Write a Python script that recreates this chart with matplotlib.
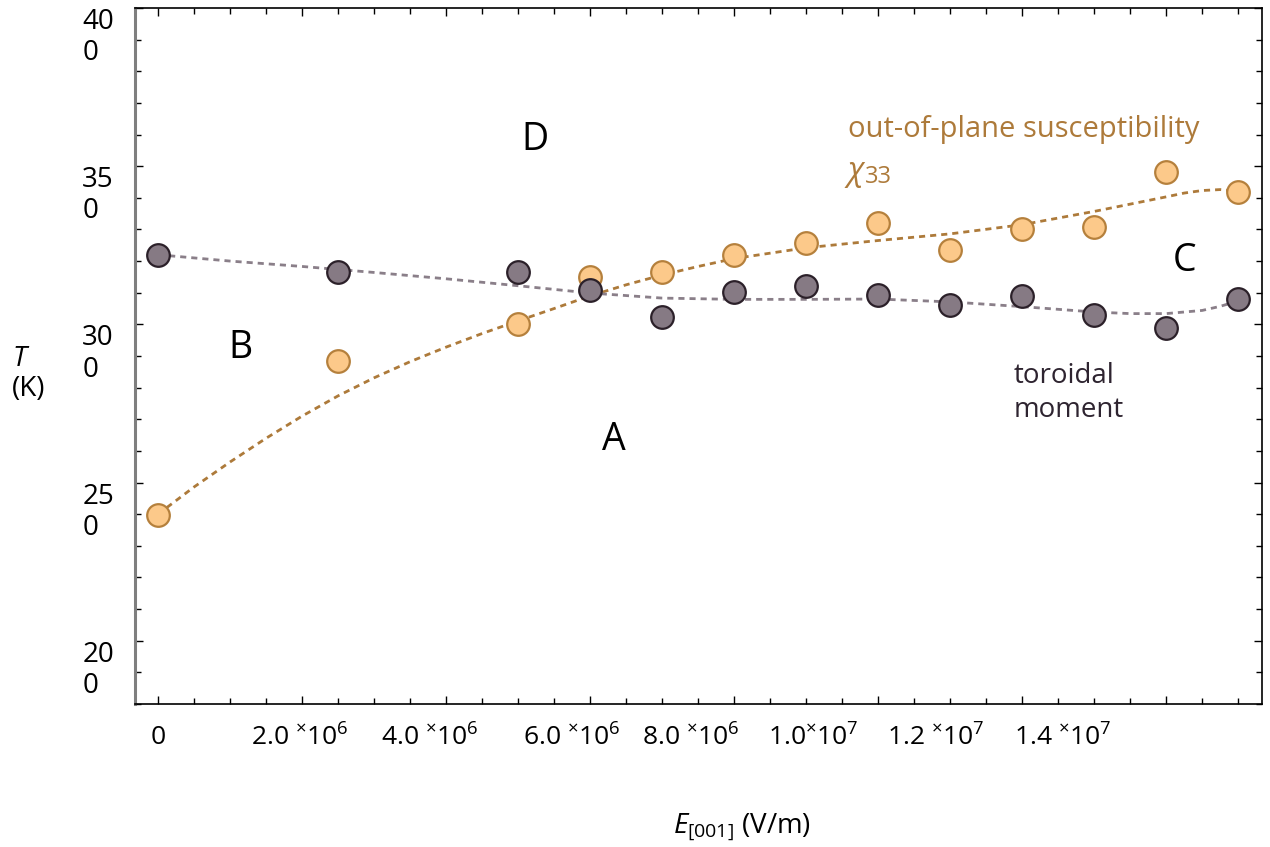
import numpy as np
import matplotlib
matplotlib.use('Agg')
import matplotlib.pyplot as plt
import matplotlib.transforms as mtransforms
from matplotlib.ticker import FixedLocator, MultipleLocator

plt.rcParams['font.family'] = ['Open Sans', 'DejaVu Sans']
plt.rcParams['mathtext.fontset'] = 'custom'
plt.rcParams['mathtext.rm'] = 'Open Sans'
plt.rcParams['mathtext.it'] = 'Open Sans:italic'

# Electric field along [001] (V/m)
field = [0, 2.5e6, 5e6, 6e6, 7e6, 8e6, 9e6, 1.0e7, 1.1e7, 1.2e7, 1.3e7, 1.4e7, 1.5e7]
# transition temperature from the out-of-plane susceptibility chi_33
t_chi = [239.6, 288.3, 300.0, 314.9, 316.5, 321.8, 325.6, 332.0, 323.4, 330.0, 330.7, 348.1, 341.8]
# transition temperature from the toroidal moment
t_tor = [321.8, 316.5, 316.5, 310.8, 302.2, 310.1, 312.0, 309.2, 306.0, 308.9, 302.8, 299.0, 307.9]

# smoothed phase boundaries (dotted guide lines)
chi_trend_field = [0, 0.5e6, 1e6, 1.5e6, 2e6, 2.5e6, 3e6, 3.5e6, 4e6, 4.5e6, 5e6, 5.5e6,
                   6e6, 6.5e6, 7e6, 7.5e6, 8e6, 9e6, 1.0e7, 1.1e7, 1.2e7, 1.3e7,
                   1.4e7, 1.425e7, 1.45e7, 1.475e7, 1.5e7]
chi_trend = [240.0, 248.6, 256.5, 264.0, 271.0, 277.4, 283.1, 288.2, 292.8, 297.1, 301.1,
             305.0, 309.0, 312.5, 315.6, 318.3, 320.8, 324.2, 326.5, 328.6, 331.5, 335.7,
             340.3, 341.5, 342.3, 342.6, 342.0]
tor_trend_field = [0, 1e6, 2e6, 3e6, 4e6, 5e6, 6e6, 7e6, 8e6, 9e6, 1.0e7, 1.1e7,
                   1.2e7, 1.3e7, 1.35e7, 1.4e7, 1.45e7, 1.475e7, 1.5e7]
tor_trend = [322.0, 320.0, 318.3, 316.4, 314.4, 312.2, 309.9, 308.3, 307.9, 307.9,
             308.0, 307.1, 305.6, 303.9, 303.4, 303.4, 304.4, 305.7, 307.4]

x_tick_pos = [0, 1.97e6, 3.78e6, 5.74e6, 7.4e6, 9.1e6, 10.8e6, 12.56e6]
x_tick_text = ['0', r'2.0 $^{\times}$10$^{6}$', r'4.0 $^{\times}$10$^{6}$',
               r'6.0 $^{\times}$10$^{6}$', r'8.0 $^{\times}$10$^{6}$',
               r'1.0$^{\times}$10$^{7}$', r'1.2 $^{\times}$10$^{7}$',
               r'1.4 $^{\times}$10$^{7}$']
y_ticks = [200, 250, 300, 350, 400]
y_tick_text = ['20\n0', '25\n0', '30\n0', '35\n0', '40\n0']

chi_fill, chi_edge, chi_line = '#fcc98a', '#b5803c', '#ad7a3a'
tor_fill, tor_edge, tor_line = '#867a84', '#2b2029', '#8a7f89'

fig = plt.figure(figsize=(12.7, 8.47), dpi=100)
ax = fig.add_axes([0.1063, 0.1688, 0.8874, 0.8218])

ax.plot(chi_trend_field, chi_trend, color=chi_line, lw=2.0, ls=(0, (2.2, 1.8)), zorder=2)
ax.plot(tor_trend_field, tor_trend, color=tor_line, lw=2.0, ls=(0, (2.2, 1.8)), zorder=2)

ax.scatter(field, t_chi, s=265, facecolor=chi_fill, edgecolor=chi_edge,
           linewidth=1.6, zorder=3)
ax.scatter(field, t_tor, s=265, facecolor=tor_fill, edgecolor=tor_edge,
           linewidth=1.6, zorder=4)

ax.set_xlim(-0.32e6, 15.33e6)
ax.set_ylim(180, 400)

# axis frame: ticks inward on all four sides
ax.xaxis.set_major_locator(MultipleLocator(2e6))
ax.xaxis.set_minor_locator(MultipleLocator(0.5e6))
ax.yaxis.set_major_locator(FixedLocator(y_ticks))
ax.yaxis.set_minor_locator(MultipleLocator(10))
ax.tick_params(which='both', direction='in', top=True, right=True,
               labelbottom=False, color='black', width=1.0)
ax.tick_params(which='major', length=6)
ax.tick_params(which='minor', length=4)
for side in ['top', 'right', 'bottom']:
    ax.spines[side].set_color('black')
    ax.spines[side].set_linewidth(1.2)
ax.spines['left'].set_color('#7f7f7f')
ax.spines['left'].set_linewidth(2.2)

ax.set_yticks(y_ticks, y_tick_text)
shift_up = mtransforms.ScaledTranslation(0, 12 / 72, fig.dpi_scale_trans)
for lab in ax.get_yticklabels():
    lab.set_fontsize(20)
    lab.set_ha('left')
    lab.set_va('top')
    lab.set_multialignment('left')
    lab.set_linespacing(1.15)
    lab.set_transform(lab.get_transform() + shift_up)
ax.tick_params(axis='y', pad=38)

# field labels sit on their own row beneath the axis
sec = ax.secondary_xaxis('bottom')
sec.set_xticks(x_tick_pos, x_tick_text)
sec.tick_params(length=0, pad=15, labelsize=19)
sec.spines['bottom'].set_visible(False)

fig.text(742 / 1270, 1 - 828 / 847, r'$E_{\mathit{[001]}}$ (V/m)',
         ha='center', va='center', fontsize=20)
fig.text(12 / 1270, 1 - 374 / 847, '$T$\n(K)', ha='left', va='center',
         fontsize=20, linespacing=1.1)

# phase labels
for letter, lx, ly in [('D', 5.24e6, 358.2), ('B', 1.14e6, 292.4),
                       ('A', 6.33e6, 263.3), ('C', 14.26e6, 319.9)]:
    ax.text(lx, ly, letter, fontsize=27, ha='center', va='center', color='black')

ax.text(9.58e6, 361.5, 'out-of-plane susceptibility', color=chi_line,
        fontsize=21, ha='left', va='center')
ax.text(9.57e6, 345.6, 'χ', color=chi_line, fontsize=23, fontstyle='italic',
        ha='left', va='baseline')
ax.text(9.82e6, 344.6, '33', color=chi_line, fontsize=17,
        ha='left', va='baseline')
ax.text(11.875e6, 278.3, 'toroidal\nmoment', color='#2e2430',
        fontsize=20, ha='left', va='center', linespacing=1.28)

fig.savefig('out.png', dpi=100)
